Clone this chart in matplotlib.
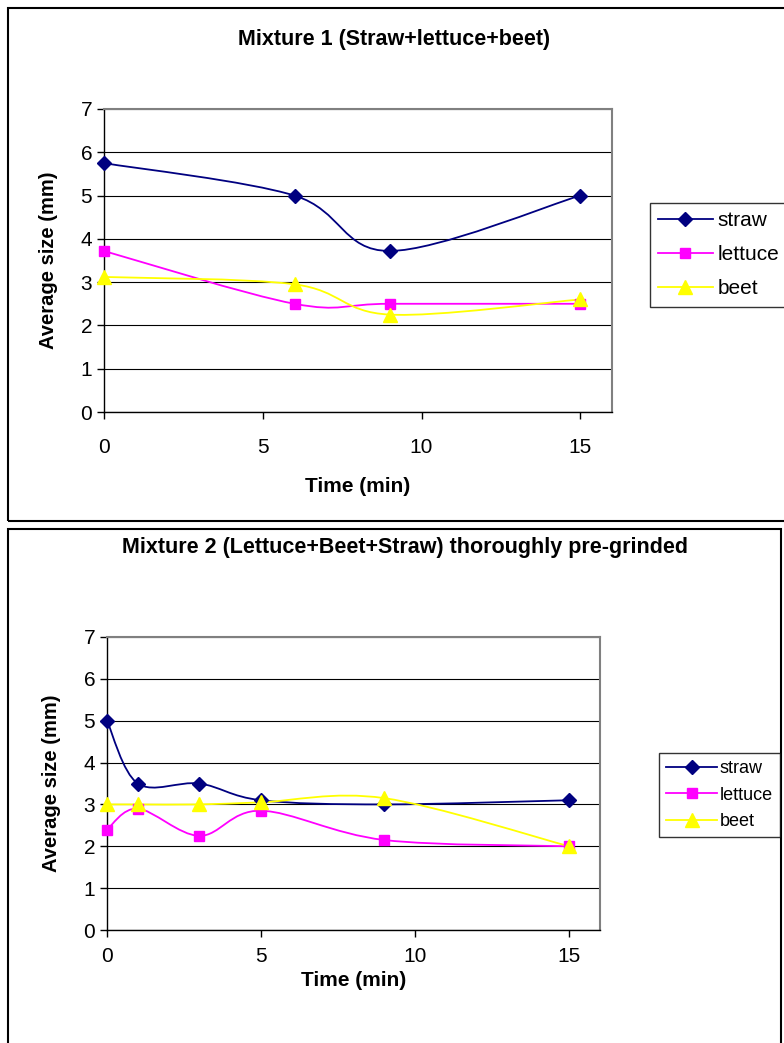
import matplotlib
matplotlib.use("Agg")
import matplotlib.pyplot as plt
from matplotlib.path import Path
from matplotlib.patches import PathPatch, Rectangle
from matplotlib.lines import Line2D

plt.rcParams['font.family'] = ['Liberation Sans', 'DejaVu Sans']

# data - mixture 1
time1 = [0, 6, 9, 15]
straw1 = [5.75, 5.0, 3.72, 5.0]
lettuce1 = [3.72, 2.5, 2.5, 2.5]
beet1 = [3.12, 2.95, 2.25, 2.6]

# data - mixture 2
time2 = [0, 1, 3, 5, 9, 15]
straw2 = [5.0, 3.5, 3.5, 3.1, 3.0, 3.1]
lettuce2 = [2.4, 2.9, 2.25, 2.85, 2.15, 2.0]
beet2 = [3.0, 3.0, 3.0, 3.05, 3.15, 2.0]

titles = ["Mixture 1 (Straw+lettuce+beet)",
          "Mixture 2 (Lettuce+Beet+Straw) thoroughly pre-grinded"]
names = ["straw", "lettuce", "beet"]
colors = ["#000080", "#FF00FF", "#FFFF00"]
markers = ["D", "s", "^"]
msizes = [7.5, 7.5, 9.5]

W, H = 784, 1043


def box(x0, y0, x1, y1):
    # pixel box (top-left origin) -> figure coords
    return [x0 / W, 1 - y1 / H, (x1 - x0) / W, (y1 - y0) / H]


def smooth_path(x, y):
    """Excel-like smoothed line as cubic bezier segments"""
    pts = list(zip(x, y))
    n = len(pts)
    verts = [pts[0]]
    codes = [Path.MOVETO]
    for i in range(n - 1):
        p0 = pts[i - 1] if i > 0 else pts[i]
        p1 = pts[i]
        p2 = pts[i + 1]
        p3 = pts[i + 2] if i + 2 < n else pts[i + 1]
        c1 = (p1[0] + (p2[0] - p0[0]) / 6, p1[1] + (p2[1] - p0[1]) / 6)
        c2 = (p2[0] - (p3[0] - p1[0]) / 6, p2[1] - (p3[1] - p1[1]) / 6)
        verts += [c1, c2, p2]
        codes += [Path.CURVE4] * 3
    return Path(verts, codes)


def draw_chart(fig, panel, plot, title, title_xy, t, series, xpad, xlabpad,
               leg_xy, legsize, legspace, handlen, textpad):
    # outer chart border
    fig.patches.append(Rectangle((panel[0], panel[1]), panel[2], panel[3],
                                 transform=fig.transFigure, fill=False,
                                 edgecolor="black", linewidth=1.5))
    ax = fig.add_axes(plot)
    for s, c, m, ms in zip(series, colors, markers, msizes):
        ax.add_patch(PathPatch(smooth_path(t, s), fill=False, edgecolor=c,
                               linewidth=1.3, zorder=3))
        ax.plot(t, s, linestyle="none", marker=m, color=c, markersize=ms,
                zorder=4, clip_on=False)
    ax.set_xlim(0, 16)
    ax.set_ylim(0, 7)
    ax.set_xticks([0, 5, 10, 15])
    ax.set_yticks(range(8))
    ax.tick_params(direction="out", length=5, width=1, labelsize=15)
    ax.tick_params(axis="x", pad=xpad)
    ax.grid(axis="y", color="black", linewidth=0.8)
    ax.set_axisbelow(True)
    for sp in ["top", "right"]:
        ax.spines[sp].set_color("#808080")
        ax.spines[sp].set_linewidth(1.5)
    for sp in ["left", "bottom"]:
        ax.spines[sp].set_linewidth(1)
    ax.set_xlabel("Time (min)", fontsize=15, fontweight="bold",
                  labelpad=xlabpad)
    ax.set_ylabel("Average size (mm)", fontsize=14.5, fontweight="bold",
                  labelpad=16)
    fig.text(title_xy[0] / W, 1 - title_xy[1] / H, title, ha="center",
             va="center", fontsize=15.5, fontweight="bold")
    handles = [Line2D([], [], color=c, marker=m, markersize=ms, linewidth=1.3)
               for c, m, ms in zip(colors, markers, msizes)]
    lg = fig.legend(handles, names, loc="upper left",
                    bbox_to_anchor=(leg_xy[0] / W, 1 - leg_xy[1] / H),
                    fontsize=legsize, frameon=True, fancybox=False,
                    edgecolor="black", borderpad=0.4, borderaxespad=0,
                    handlelength=handlen, handletextpad=textpad,
                    labelspacing=legspace)
    lg.get_frame().set_linewidth(1)
    return ax


fig = plt.figure(figsize=(7.84, 10.43), dpi=100)

draw_chart(fig, box(8, 8, 790, 521), box(104, 109, 612, 412), titles[0],
           (394, 40), time1, [straw1, lettuce1, beet1], 14, 14,
           (650, 203), 15, 0.72, 2.6, 0.25)
draw_chart(fig, box(8, 529, 781, 1050), box(107, 637, 600, 930), titles[1],
           (405, 548), time2, [straw2, lettuce2, beet2], 7, 4,
           (659, 753), 13, 0.52, 2.8, 0.15)

fig.savefig("out.png", dpi=100)
